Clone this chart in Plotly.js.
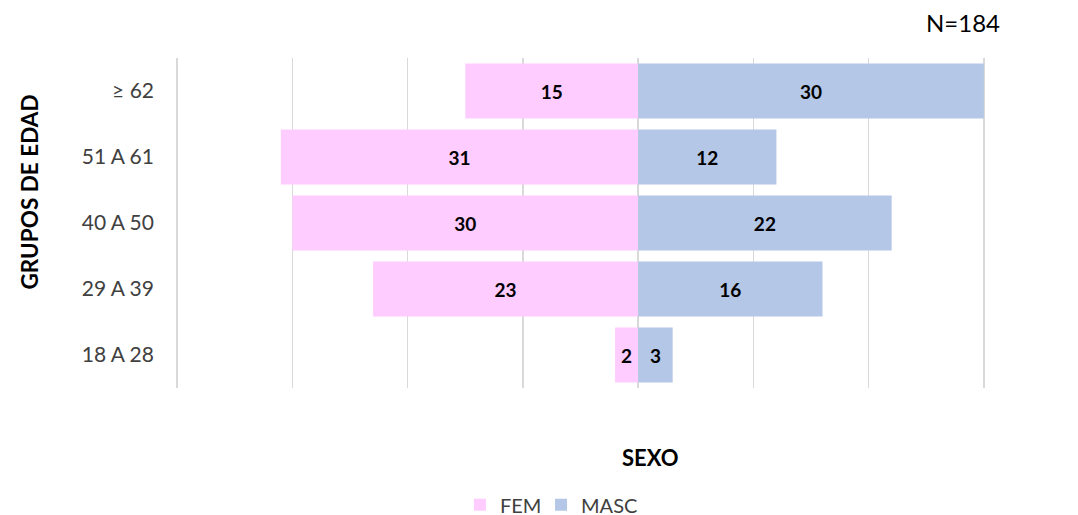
<!DOCTYPE html>
<html>
<head>
<meta charset="utf-8">
<script src="https://cdn.plot.ly/plotly-3.0.1.min.js"></script>
<style>html,body{margin:0;padding:0;background:#fff;}#chart{width:1078px;height:515px;}</style>
</head>
<body>
<div id="chart"></div>
<script>
const ageGroups = ["18 A 28", "29 A 39", "40 A 50", "51 A 61", "≥ 62"];
const femValues = [2, 23, 30, 31, 15];
const mascValues = [3, 16, 22, 12, 30];
const seriesNames = ["FEM", "MASC"];

const FONT = "Lato, 'Open Sans', 'Liberation Sans', sans-serif";

const traces = [
  {
    type: "bar", orientation: "h", name: seriesNames[0], legend: "legend",
    y: ageGroups, x: femValues.map(v => -v),
    text: femValues.map(String), textposition: "inside", insidetextanchor: "middle",
    constraintext: "none",
    textfont: {family: FONT, size: 19, color: "#000000", weight: "bold"},
    marker: {color: "#FFCCFF"}, hoverinfo: "skip"
  },
  {
    type: "bar", orientation: "h", name: seriesNames[1], legend: "legend2",
    y: ageGroups, x: mascValues,
    text: mascValues.map(String), textposition: "inside", insidetextanchor: "middle",
    constraintext: "none",
    textfont: {family: FONT, size: 19, color: "#000000", weight: "bold"},
    marker: {color: "#B4C7E7"}, hoverinfo: "skip"
  }
];

const legendBase = {
  orientation: "h", xref: "container", yref: "container",
  xanchor: "left", y: 0.02, yanchor: "middle",
  font: {family: FONT, size: 20, color: "#404040"}
};

const layout = {
  width: 1078, height: 515,
  margin: {l: 176, r: 93, t: 58, b: 127, autoexpand: false},
  paper_bgcolor: "#ffffff", plot_bgcolor: "#ffffff",
  barmode: "relative", bargap: 0.17,
  font: {family: FONT, color: "#404040"},
  showlegend: true,
  legend: Object.assign({}, legendBase, {x: 0.4267}),
  legend2: Object.assign({}, legendBase, {x: 0.5019}),
  xaxis: {
    range: [-40.1, 30.1], dtick: 10, tick0: 0,
    showticklabels: false, showgrid: true, gridcolor: "#D9D9D9", gridwidth: 1.5,
    zeroline: true, zerolinecolor: "#D9D9D9", zerolinewidth: 1.5,
    showline: false, ticks: "", fixedrange: true
  },
  yaxis: {
    type: "category", categoryorder: "array", categoryarray: ageGroups,
    showgrid: false, zeroline: false, showline: false, ticks: "",
    tickfont: {family: FONT, size: 21, color: "#404040"},
    ticklabelstandoff: 21, fixedrange: true, automargin: false
  },
  annotations: [
    {text: "GRUPOS DE EDAD", xref: "paper", yref: "paper", x: -0.181, y: 0.594,
     xanchor: "center", yanchor: "middle", textangle: -90, showarrow: false,
     font: {family: FONT, size: 22.5, color: "#000000", weight: "bold"}},
    {text: "SEXO", xref: "paper", yref: "paper", x: 0.586, y: -0.212,
     xanchor: "center", yanchor: "middle", showarrow: false,
     font: {family: FONT, size: 22, color: "#000000", weight: "bold"}},
    {text: "N=184", xref: "paper", yref: "paper", x: 0.973, y: 1.109,
     xanchor: "center", yanchor: "middle", showarrow: false,
     font: {family: FONT, size: 24, color: "#000000"}}
  ]
};

Plotly.newPlot("chart", traces, layout, {displayModeBar: false, staticPlot: true});
</script>
</body>
</html>
